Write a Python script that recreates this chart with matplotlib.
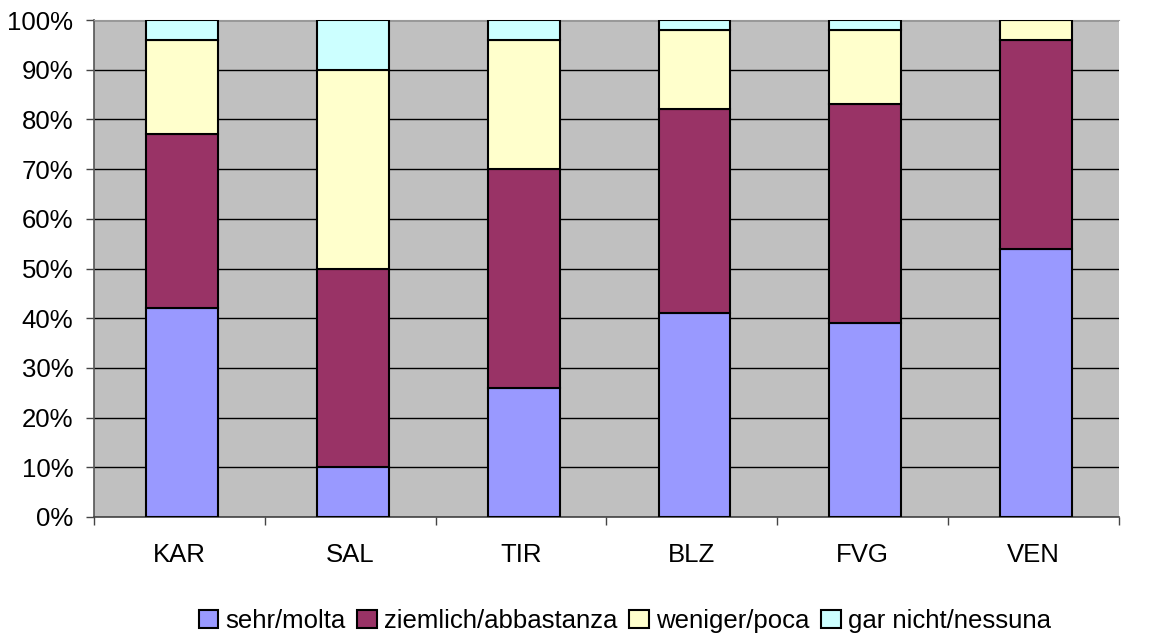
import matplotlib
matplotlib.use("Agg")
import matplotlib.pyplot as plt
import numpy as np
from matplotlib.ticker import FuncFormatter

categories = ["KAR", "SAL", "TIR", "BLZ", "FVG", "VEN"]
series_names = ["sehr/molta", "ziemlich/abbastanza", "weniger/poca", "gar nicht/nessuna"]
sehr = [42, 10, 26, 41, 39, 54]
ziemlich = [35, 40, 44, 41, 44, 42]
weniger = [19, 40, 26, 16, 15, 4]
gar = [4, 10, 4, 2, 2, 0]
colors = ["#9999FF", "#993366", "#FFFFCC", "#CCFFFF"]

plt.rcParams['font.family'] = ['Liberation Sans', 'DejaVu Sans']

fig = plt.figure(figsize=(11.49, 6.37), dpi=100)
ax = fig.add_axes([94/1149, 1-517/637, (1119-94)/1149, (517-20)/637])
ax.set_facecolor("#C0C0C0")

x = np.arange(len(categories))
bottom = np.zeros(len(categories))
for name, vals, c in zip(series_names, [sehr, ziemlich, weniger, gar], colors):
    v = np.array(vals, dtype=float)
    ax.bar(x + 0.015, v, width=0.42, bottom=bottom, color=c, edgecolor="black",
           linewidth=1.5, label=name, zorder=3)
    bottom += v

ax.set_xlim(-0.5, len(categories) - 0.5)
ax.set_ylim(0, 100)
ax.set_yticks(np.arange(0, 101, 10))
ax.yaxis.set_major_formatter(FuncFormatter(lambda v, p: f"{int(v)}%"))
ax.yaxis.grid(True, color="black", linewidth=1, zorder=1)
ax.set_axisbelow(True)

ax.set_xticks(x)
ax.set_xticklabels(categories)
ax.set_xticks(np.arange(-0.5, len(categories)), minor=True)
ax.tick_params(axis='x', which='major', length=0, pad=19, labelsize=18.5)
ax.tick_params(axis='x', which='minor', length=6, width=1, color="#444444")
ax.tick_params(axis='y', length=6, width=1, labelsize=18.5, pad=9, color="#444444")

for s in ["right"]:
    ax.spines[s].set_visible(False)
ax.spines["top"].set_color("#999999")
ax.spines["left"].set_color("#555555")
ax.spines["left"].set_linewidth(1.2)
ax.spines["bottom"].set_color("#444444")
ax.spines["bottom"].set_linewidth(1.2)

fig.legend(loc="center", bbox_to_anchor=(625/1149, 1-621/637), ncol=4, frameon=False,
           fontsize=18.5, handlelength=0.75, handleheight=0.75, handletextpad=0.3,
           columnspacing=0.45, borderpad=0)

fig.savefig("out.png", dpi=100)
